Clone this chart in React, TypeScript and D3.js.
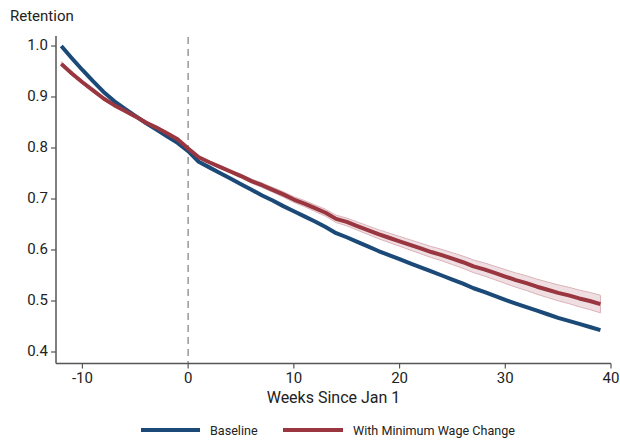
import React from "react";
import * as d3 from "d3";

const weeks = d3.range(-12, 40);

const baseline = [
  1.0, 0.976, 0.953, 0.931, 0.91, 0.892, 0.877, 0.863, 0.849, 0.836, 0.823, 0.81,
  0.794, 0.773, 0.762, 0.751, 0.74, 0.729, 0.718, 0.707, 0.697, 0.686, 0.676, 0.666,
  0.656, 0.645, 0.633, 0.625, 0.616, 0.607, 0.598, 0.59, 0.582, 0.574, 0.566, 0.558,
  0.55, 0.542, 0.534, 0.525, 0.518, 0.51, 0.502, 0.495, 0.488, 0.481, 0.474, 0.467,
  0.461, 0.455, 0.449, 0.443,
];

const minWage = [
  0.965, 0.946, 0.929, 0.913, 0.897, 0.884, 0.873, 0.862, 0.85, 0.84, 0.829, 0.817,
  0.799, 0.782, 0.772, 0.763, 0.754, 0.745, 0.735, 0.727, 0.718, 0.709, 0.699, 0.691,
  0.682, 0.673, 0.661, 0.655, 0.647, 0.639, 0.631, 0.624, 0.617, 0.61, 0.603, 0.596,
  0.59, 0.583, 0.576, 0.568, 0.562, 0.555, 0.548, 0.541, 0.535, 0.528, 0.522, 0.516,
  0.511, 0.505, 0.5, 0.494,
];

// half-width of the confidence band around the min-wage line
const minWageCi = [
  0.004, 0.0035, 0.003, 0.0027, 0.0024, 0.0021, 0.0018, 0.0016, 0.0014, 0.0012, 0.001, 0.001,
  0.001, 0.0015, 0.002, 0.0025, 0.003, 0.0035, 0.004, 0.0044, 0.0048, 0.0052, 0.0056, 0.006,
  0.0064, 0.0068, 0.0072, 0.0076, 0.008, 0.0084, 0.0088, 0.0092, 0.0096, 0.01, 0.0104, 0.0108,
  0.0112, 0.0116, 0.012, 0.0124, 0.0128, 0.0132, 0.0136, 0.014, 0.0144, 0.0148, 0.0152, 0.0156,
  0.016, 0.0164, 0.0168, 0.0172,
];

const xTicks = [-10, 0, 10, 20, 30, 40];
const yTicks = [0.4, 0.5, 0.6, 0.7, 0.8, 0.9, 1.0];

const BLUE = "#1c4a78";
const RED = "#993640";

export default function App() {
  const width = 620;
  const height = 443;
  const margin = { top: 36, right: 9, bottom: 80, left: 56 };

  const x = d3.scaleLinear().domain([-12.5, 40]).range([margin.left, width - margin.right]);
  const y = d3.scaleLinear().domain([0.4, 1.0]).range([352, 46]);
  const yBottom = height - margin.bottom + 0.5;

  const line = d3
    .line<number>()
    .x((_, i) => x(weeks[i]))
    .y((d) => y(d));

  const band = d3
    .area<number>()
    .x((_, i) => x(weeks[i]))
    .y0((d, i) => y(d - minWageCi[i]))
    .y1((d, i) => y(d + minWageCi[i]));

  const font = "Roboto, 'Noto Sans', sans-serif";
  const axisColor = "#555";

  return (
    <svg width={width} height={height} style={{ position: "absolute", left: 0, top: 0, fontFamily: font }}>
      <rect width={width} height={height} fill="#fff" />
      <text x={10} y={21} fontSize={15} fill="#222">Retention</text>

      {/* reference line at week 0 */}
      <line x1={x(0)} x2={x(0)} y1={margin.top + 1} y2={yBottom} stroke="#999" strokeWidth={1.5} strokeDasharray="7,5" />

      {/* CI band */}
      <path d={band(minWage) || ""} fill="#f0dfe2" stroke="#d9b3b9" strokeWidth={1} />

      <path d={line(baseline) || ""} fill="none" stroke={BLUE} strokeWidth={4} strokeLinejoin="round" />
      <path d={line(minWage) || ""} fill="none" stroke={RED} strokeWidth={4} strokeLinejoin="round" />

      {/* y axis */}
      <line x1={margin.left} x2={margin.left} y1={margin.top} y2={yBottom} stroke={axisColor} strokeWidth={1.5} />
      {yTicks.map((t) => (
        <g key={t}>
          <line x1={margin.left - 5} x2={margin.left} y1={y(t)} y2={y(t)} stroke={axisColor} strokeWidth={1.2} />
          <text x={margin.left - 8} y={y(t)} fontSize={15} fill="#222" textAnchor="end" dominantBaseline="middle">
            {t.toFixed(1)}
          </text>
        </g>
      ))}

      {/* x axis */}
      <line x1={margin.left} x2={x(40)} y1={yBottom} y2={yBottom} stroke={axisColor} strokeWidth={1.5} />
      {xTicks.map((t) => (
        <g key={t}>
          <line x1={x(t)} x2={x(t)} y1={yBottom} y2={yBottom + 5} stroke={axisColor} strokeWidth={1.2} />
          <text x={x(t)} y={yBottom + 19.5} fontSize={15} fill="#222" textAnchor="middle">
            {t}
          </text>
        </g>
      ))}
      <text x={(margin.left + x(40)) / 2} y={402.5} fontSize={16} fill="#222" textAnchor="middle">
        Weeks Since Jan 1
      </text>

      {/* legend */}
      <g fontSize={12.6} fill="#222">
        <line x1={141} x2={200} y1={430} y2={430} stroke={BLUE} strokeWidth={4} />
        <text x={210} y={434.5}>Baseline</text>
        <line x1={283} x2={343} y1={430} y2={430} stroke={RED} strokeWidth={4} />
        <text x={353} y={434.5}>With Minimum Wage Change</text>
      </g>
    </svg>
  );
}
